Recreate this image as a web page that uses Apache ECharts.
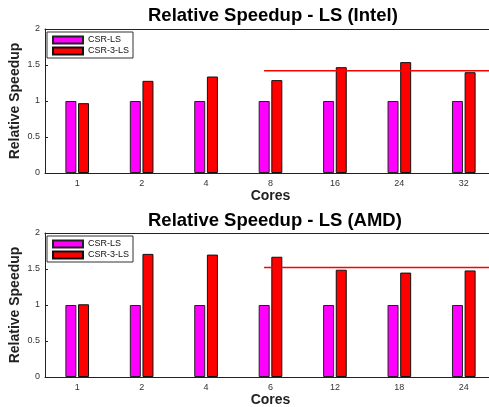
<!DOCTYPE html>
<html>
<head>
<meta charset="utf-8">
<script src="https://cdn.jsdelivr.net/npm/echarts@6/dist/echarts.min.js"></script>
<style>html,body{margin:0;padding:0;background:#fff;}#c{width:489px;height:407px;}</style>
</head>
<body>
<div id="c"></div>
<script>
var coresIntel = ['1', '2', '4', '8', '16', '24', '32'];
var csrIntel = [1, 1, 1, 1, 1, 1, 1];
var csr3Intel = [0.97, 1.28, 1.34, 1.29, 1.47, 1.54, 1.40];
var refIntel = 1.42;

var coresAMD = ['1', '2', '4', '6', '12', '18', '24'];
var csrAMD = [1, 1, 1, 1, 1, 1, 1];
var csr3AMD = [1.01, 1.71, 1.70, 1.67, 1.49, 1.45, 1.48];
var refAMD = 1.52;

var refSpan = [2.9, 6.6];
var titles = ['Relative Speedup - LS (Intel)', 'Relative Speedup - LS (AMD)'];

var FONT = 'Liberation Sans, Arial, Helvetica, sans-serif';
var panels = [
  {cats: coresIntel, a: csrIntel, b: csr3Intel, ref: refIntel, top: 29, bottom: 234, titleTop: 1, legendTop: 32},
  {cats: coresAMD, a: csrAMD, b: csr3AMD, ref: refAMD, top: 233, bottom: 30, titleTop: 206, legendTop: 236}
];

var option = {
  animation: false,
  title: [], grid: [], xAxis: [], yAxis: [], series: [], legend: []
};

panels.forEach(function (p, i) {
  option.title.push({
    text: titles[i], left: 143, top: p.titleTop,
    textStyle: {fontFamily: FONT, fontSize: 18.5, fontWeight: 'bold', color: '#000'}
  });
  option.grid.push({left: 45, right: -7, top: p.top, bottom: p.bottom, containLabel: false, outerBoundsMode: 'none'});
  var base = i * 3;
  option.xAxis.push({
    type: 'category', gridIndex: i, data: p.cats, position: 'bottom',
    name: 'Cores', nameLocation: 'middle', nameGap: 16, nameMoveOverlap: false,
    nameTextStyle: {fontFamily: FONT, fontSize: 14, fontWeight: 'bold', color: '#222'},
    axisLine: {onZero: false, lineStyle: {color: '#222', width: 1}},
    axisTick: {inside: true, length: 3, alignWithLabel: true, lineStyle: {color: '#444'}},
    axisLabel: {fontFamily: FONT, fontSize: 9, color: '#333', margin: 6},
    splitLine: {show: false}
  });
  option.xAxis.push({
    type: 'category', gridIndex: i, data: p.cats, position: 'top',
    axisLine: {onZero: false, lineStyle: {color: '#222', width: 1}},
    axisTick: {inside: true, length: 3, alignWithLabel: true, lineStyle: {color: '#222'}},
    axisLabel: {show: false}, splitLine: {show: false}
  });
  option.xAxis.push({
    type: 'value', gridIndex: i, min: -0.5, max: 6.5, show: false,
    axisLine: {onZero: false}
  });
  option.yAxis.push({
    type: 'value', gridIndex: i, min: 0, max: 2, interval: 0.5, position: 'left',
    name: 'Relative Speedup', nameLocation: 'middle', nameGap: 23, nameMoveOverlap: false,
    nameTextStyle: {fontFamily: FONT, fontSize: 14, fontWeight: 'bold', color: '#222'},
    axisLine: {show: true, onZero: false, lineStyle: {color: '#222', width: 1}},
    axisTick: {show: true, inside: true, length: 3, lineStyle: {color: '#222'}},
    axisLabel: {fontFamily: FONT, fontSize: 9, color: '#333', margin: 5,
      formatter: function (v) { return String(v); }},
    splitLine: {show: false}
  });
  option.yAxis.push({
    type: 'value', gridIndex: i, min: 0, max: 2, interval: 0.5, position: 'right',
    axisLine: {show: true, onZero: false, lineStyle: {color: '#222', width: 1}},
    axisTick: {show: true, inside: true, length: 3, lineStyle: {color: '#222'}},
    axisLabel: {show: false}, splitLine: {show: false}
  });
  option.series.push({
    name: 'CSR-LS', type: 'bar', xAxisIndex: base, yAxisIndex: i * 2,
    data: p.a, barWidth: 11, barGap: '15%',
    itemStyle: {color: '#ff00ff', borderColor: '#222', borderWidth: 1}
  });
  option.series.push({
    name: 'CSR-3-LS', type: 'bar', xAxisIndex: base, yAxisIndex: i * 2,
    data: p.b, barWidth: 11, barGap: '15%',
    itemStyle: {color: '#ff0000', borderColor: '#111', borderWidth: 1}
  });
  option.series.push({
    name: 'ref' + i, type: 'line', xAxisIndex: base + 2, yAxisIndex: i * 2,
    data: [[refSpan[0], p.ref], [refSpan[1], p.ref]], symbol: 'none',
    lineStyle: {color: '#ff0000', width: 1.5}, z: 5, silent: true
  });
  option.legend.push({
    data: ['CSR-LS', 'CSR-3-LS'], orient: 'vertical', left: 47, top: p.legendTop,
    icon: 'rect', itemWidth: 30, itemHeight: 7, itemGap: 1,
    padding: [3, 4, 2, 5],
    backgroundColor: '#fff', borderColor: '#333', borderWidth: 1, borderRadius: 0,
    textStyle: {fontFamily: FONT, fontSize: 9, lineHeight: 10, color: '#111'},
    selectedMode: false
  });
});

var chart = echarts.init(document.getElementById('c'), null, {renderer: 'canvas'});
chart.setOption(option);
</script>
</body>
</html>
